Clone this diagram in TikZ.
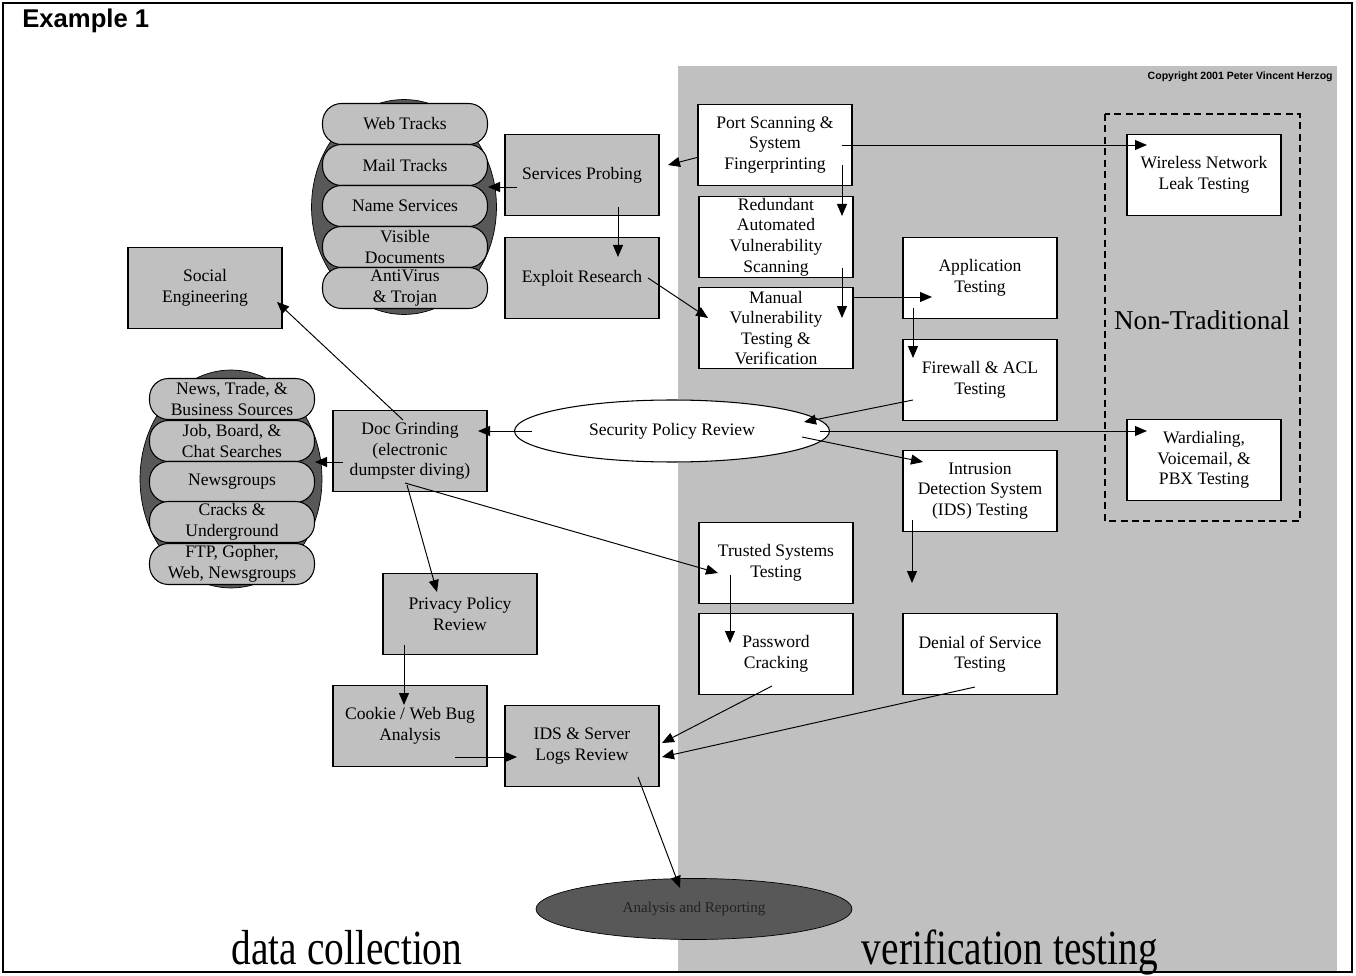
\documentclass[tikz,border=0pt]{standalone}
\usepackage{fontspec}
\setmainfont{Liberation Serif}
\newfontfamily\headfont{Liberation Sans}
\newfontfamily\bigserif[FakeStretch=0.8]{Liberation Serif}
\usetikzlibrary{positioning,calc,arrows.meta,shapes.geometric}
\definecolor{panelgray}{HTML}{C0C0C0}
\definecolor{darkblob}{HTML}{585858}
\definecolor{dimtext}{HTML}{222222}

\begin{document}
\begin{tikzpicture}[x=0.02cm,y=-0.02cm,
    gbox/.style={rectangle,draw,line width=0.8pt,fill=panelgray,minimum width=3.08cm,minimum height=1.62cm,inner sep=0pt,align=center,font=\fontsize{10}{11.7}\selectfont},
    wbox/.style={gbox,fill=white},
    item/.style={rectangle,rounded corners=0.38cm,draw,line width=0.6pt,fill=panelgray,minimum width=3.3cm,minimum height=0.82cm,inner sep=0pt,align=center,font=\fontsize{10}{11.7}\selectfont},
    blob/.style={ellipse,draw,fill=darkblob,inner sep=0pt},
    arr/.style={-{Triangle[length=0.24cm,width=0.2cm]},line width=0.55pt}]

\useasboundingbox (0,0) rectangle (1356,976);
\fill[panelgray] (678,66) rectangle (1337,972);
\draw[line width=1.4pt] (3,3) rectangle (1352,972);

\node[anchor=base west,inner sep=0pt,font=\headfont\bfseries\fontsize{14.6}{16}\selectfont] (title) at (22,28) {Example 1};
\node[anchor=base east,inner sep=0pt,font=\headfont\bfseries\fontsize{6}{7}\selectfont] (copy) at (1333,80) {Copyright 2001 Peter Vincent Herzog};

% stacked sources, top
\node[blob,minimum width=3.7cm,minimum height=4.3cm] (ga) at (404,207) {};
\node[item] (wt) at (405,124) {Web Tracks};
\node[item] (mt) at (405,165) {Mail Tracks};
\node[item] (ns) at (405,206) {Name Services};
\node[item] (vd) at (405,247) {Visible\\Documents};
\node[item] (av) at (405,288) {AntiVirus\\\& Trojan};

% stacked sources, left
\node[blob,minimum width=3.64cm,minimum height=4.36cm] (gb) at (231,479) {};
\node[item] (nts) at (232,399) {News, Trade, \&\\Business Sources};
\node[item] (jbc) at (232,441) {Job, Board, \&\\Chat Searches};
\node[item] (ngr) at (232,482) {Newsgroups};
\node[item] (cu) at (232,522) {Cracks \&\\Underground};
\node[item] (ftp) at (232,564) {FTP, Gopher,\\Web, Newsgroups};

% data collection
\node[gbox] (sp) at (582,175) {Services Probing};
\node[gbox] (er) at (582,278) {Exploit Research};
\node[gbox] (se) at (205,288) {Social\\Engineering};
\node[gbox] (dg) at (410,451) {Doc Grinding\\(electronic\\dumpster diving)};
\node[gbox] (ppr) at (460,614) {Privacy Policy\\Review};
\node[gbox] (cwb) at (410,726) {Cookie / Web Bug\\Analysis};
\node[gbox] (ids) at (582,746) {IDS \& Server\\Logs Review};

% verification testing
\node[wbox] (psf) at (775,145) {Port Scanning \&\\System\\Fingerprinting};
\node[wbox] (ravs) at (776,237) {Redundant\\Automated\\Vulnerability\\Scanning};
\node[wbox] (mvt) at (776,328) {Manual\\Vulnerability\\Testing \&\\Verification};
\node[wbox] (app) at (980,278) {Application\\Testing};
\node[wbox] (fw) at (980,380) {Firewall \& ACL\\Testing};
\node[wbox] (idst) at (980,491) {Intrusion\\Detection System\\(IDS) Testing};
\node[wbox] (tst) at (776,563) {Trusted Systems\\Testing};
\node[wbox] (pwc) at (776,654) {Password\\Cracking};
\node[wbox] (dos) at (980,654) {Denial of Service\\Testing};

% non-traditional
\draw[line width=0.6pt,dash pattern=on 4pt off 2.5pt] (1105,114) rectangle (1300,521);
\node[wbox] (wnl) at (1204,175) {Wireless Network\\Leak Testing};
\node[wbox] (war) at (1204,460) {Wardialing,\\Voicemail, \&\\PBX Testing};
\node[font=\fontsize{15.5}{18}\selectfont] (nt) at (1202,320) {Non-Traditional};

\node[ellipse,draw,line width=0.6pt,fill=white,minimum width=6.3cm,minimum height=1.24cm,inner sep=0pt,font=\fontsize{10}{11.7}\selectfont] (spr) at (672,431) {Security Policy Review};
\node[blob,minimum width=6.32cm,minimum height=1.22cm,text=dimtext,font=\fontsize{8.6}{10}\selectfont] (anr) at (694,909) {Analysis and Reporting};

\node[anchor=base,font=\bigserif\fontsize{28}{30}\selectfont] (dc) at (347,964) {data collection};
\node[anchor=base,font=\bigserif\fontsize{28}{30}\selectfont] (vt) at (1010,964) {verification testing};

% connectors
\draw[arr] ($(psf)+(-76,12)$) -- ($(sp)+(86,-10)$);
\draw[arr] ($(psf)+(67,0)$) -- ($(wnl)+(-57,-30)$);
\draw[arr] ($(psf)+(67,20)$) -- ($(ravs)+(66,-21)$);
\draw[arr] ($(ravs)+(66,31)$) -- ($(mvt)+(66,-10)$);
\draw[arr] ($(mvt)+(77,-31)$) -- ($(app)+(-48,19)$);
\draw[arr] ($(app)+(-67,30)$) -- ($(fw)+(-67,-22)$);
\draw[arr] ($(sp)+(-65,12)$) -- ($(ga)+(84,-20)$);
\draw[arr] ($(sp)+(36,32)$) -- ($(er)+(36,-21)$);
\draw[arr] ($(er)+(66,0)$) -- ($(mvt)+(-68,-10)$);
\draw[arr] ($(dg)+(-7,-31)$) -- ($(se)+(72,14)$);
\draw[arr] ($(dg)+(-67,11)$) -- ($(gb)+(84,-17)$);
\draw[arr] ($(spr)+(-140,0)$) -- ($(dg)+(68,-20)$);
\draw[arr] ($(fw)+(-67,20)$) -- ($(spr)+(132,-9)$);
\draw[arr] ($(spr)+(130,6)$) -- ($(idst)+(-57,-29)$);
\draw[arr] ($(spr)+(148,0)$) -- ($(war)+(-57,-29)$);
\draw[arr] ($(dg)+(-5,32)$) -- ($(tst)+(-58,10)$);
\draw[arr] ($(dg)+(-3,34)$) -- ($(ppr)+(-23,-22)$);
\coordinate (idsend) at (912,583);
\draw[arr] ($(idst)+(-68,29)$) -- (idsend);
\draw[arr] ($(tst)+(-46,12)$) -- ($(pwc)+(-46,-11)$);
\draw[arr] ($(ppr)+(-56,31)$) -- ($(cwb)+(-6,-21)$);
\draw[arr] ($(cwb)+(45,31)$) -- ($(ids)+(-65,11)$);
\draw[arr] ($(pwc)+(-4,32)$) -- ($(ids)+(80,-3)$);
\draw[arr] ($(dos)+(-5,33)$) -- ($(ids)+(80,11)$);
\draw[arr] ($(ids)+(56,31)$) -- ($(anr)+(-14,-21)$);

\end{tikzpicture}
\end{document}
